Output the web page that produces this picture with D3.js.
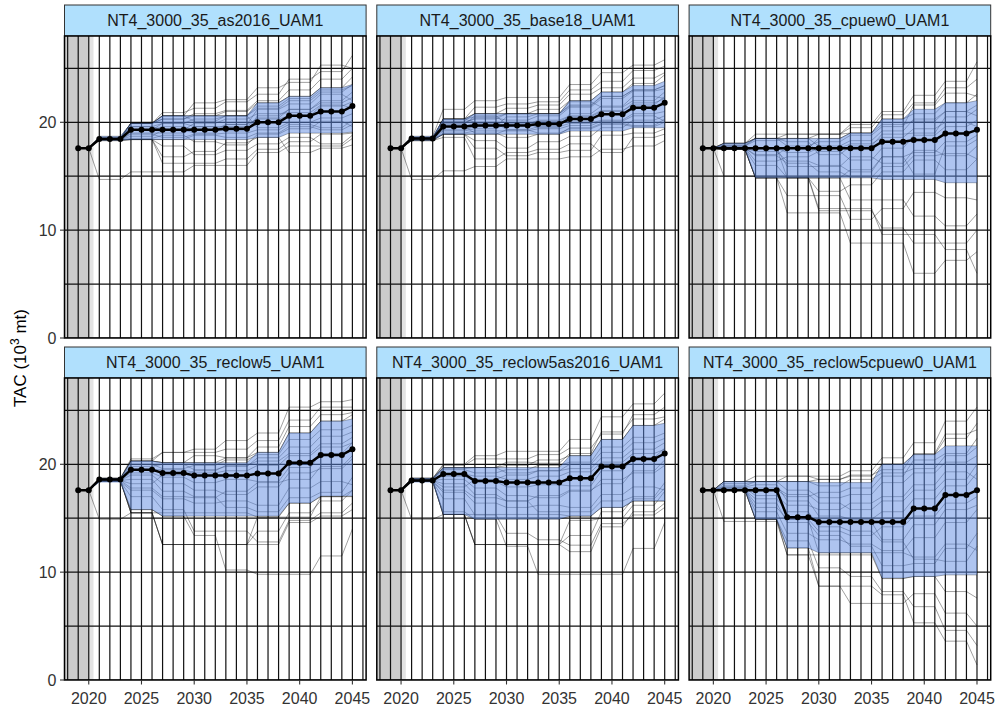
<!DOCTYPE html>
<html>
<head>
<meta charset="utf-8">
<script src="https://cdn.jsdelivr.net/npm/d3@7"></script>
<style>
  body { margin: 0; background: #fff; }
  svg { display: block; font-family: "Liberation Sans", Arial, sans-serif; }
</style>
</head>
<body>
<svg id="chart" width="997" height="710"></svg>
<script>
// Management procedure scenarios, one facet each (row-major order)
const scenarioNames = [
  "NT4_3000_35_as2016_UAM1",
  "NT4_3000_35_base18_UAM1",
  "NT4_3000_35_cpuew0_UAM1",
  "NT4_3000_35_reclow5_UAM1",
  "NT4_3000_35_reclow5as2016_UAM1",
  "NT4_3000_35_reclow5cpuew0_UAM1"
];

// Projection years
const years = [2019, 2020, 2021, 2022, 2023, 2024, 2025, 2026, 2027, 2028, 2029, 2030, 2031,
  2032, 2033, 2034, 2035, 2036, 2037, 2038, 2039, 2040, 2041, 2042, 2043, 2044, 2045];

// TAC is set at the start of each three-year cycle and held until the next one
const cycleYears = [2021, 2024, 2027, 2030, 2033, 2036, 2039, 2042, 2045];
const initialTAC = 17.6;

// Median TAC per year (10^3 mt)
const medianTAC = [
  [17.6,17.6,18.45,18.45,18.45,19.3,19.3,19.3,19.3,19.3,19.3,19.3,19.3,19.3,19.4,19.4,19.4,20.0,20.0,20.0,20.6,20.6,20.6,21.0,21.0,21.0,21.5],
  [17.6,17.6,18.5,18.5,18.5,19.6,19.6,19.6,19.7,19.7,19.7,19.7,19.7,19.7,19.85,19.85,19.85,20.3,20.3,20.3,20.75,20.75,20.75,21.35,21.35,21.35,21.8],
  [17.6,17.6,17.6,17.6,17.6,17.6,17.6,17.6,17.6,17.6,17.6,17.6,17.6,17.6,17.6,17.6,17.6,18.2,18.2,18.2,18.35,18.35,18.35,18.95,18.95,18.95,19.3],
  [17.6,17.6,18.6,18.6,18.6,19.5,19.5,19.5,19.2,19.2,19.2,18.95,18.95,18.95,18.95,18.95,18.95,19.15,19.15,19.15,20.15,20.15,20.15,20.85,20.85,20.85,21.4],
  [17.6,17.6,18.5,18.5,18.5,19.1,19.1,19.1,18.45,18.45,18.45,18.3,18.3,18.3,18.3,18.3,18.3,18.7,18.7,18.7,19.8,19.8,19.8,20.5,20.5,20.5,21.0],
  [17.6,17.6,17.6,17.6,17.6,17.6,17.6,17.6,15.1,15.1,15.1,14.65,14.65,14.65,14.65,14.65,14.65,14.65,14.65,14.65,15.9,15.9,15.9,17.15,17.15,17.15,17.6]
];

// Lower bound of the central interval per year
const lowerTAC = [
  [17.6,17.6,18.3,18.3,18.3,18.4,18.4,18.4,18.4,18.4,18.4,18.4,18.4,18.4,18.4,18.4,18.4,18.6,18.6,18.6,19.0,19.0,19.0,19.0,19.0,19.0,19.1],
  [17.6,17.6,18.3,18.3,18.3,18.9,18.9,18.9,18.9,18.9,18.9,18.9,18.9,18.9,18.9,18.9,18.9,19.2,19.2,19.2,19.2,19.2,19.2,19.5,19.5,19.5,19.5],
  [17.6,17.6,17.5,17.5,17.5,14.85,14.85,14.85,14.85,14.85,14.85,14.85,14.85,14.85,14.85,14.85,14.85,14.7,14.7,14.7,14.7,14.7,14.7,14.4,14.4,14.4,14.4],
  [17.6,17.6,18.3,18.3,18.3,15.8,15.8,15.8,15.2,15.2,15.2,15.2,15.2,15.2,15.2,15.2,15.2,15.2,15.2,15.2,16.4,16.4,16.4,17.05,17.05,17.05,17.05],
  [17.6,17.6,18.3,18.3,18.3,15.35,15.35,15.35,14.9,14.9,14.9,14.9,14.9,14.9,14.9,14.9,14.9,15.2,15.2,15.2,16.0,16.0,16.0,16.6,16.6,16.6,16.6],
  [17.6,17.6,17.6,17.6,17.6,14.9,14.9,14.9,12.25,12.25,12.25,11.8,11.8,11.8,11.8,11.8,11.8,9.45,9.45,9.45,9.6,9.6,9.6,9.75,9.75,9.75,9.75]
];

// Upper bound of the central interval per year
const upperTAC = [
  [17.6,17.6,18.7,18.7,18.7,19.9,19.9,19.9,20.6,20.6,20.6,20.6,20.6,20.6,20.6,20.6,20.6,21.8,21.8,21.8,22.4,22.4,22.4,23.2,23.2,23.2,23.5],
  [17.6,17.6,18.7,18.7,18.7,20.3,20.3,20.3,20.8,20.8,20.8,20.8,20.8,20.8,20.8,20.8,20.8,22.0,22.0,22.0,22.8,22.8,22.8,23.4,23.4,23.4,23.8],
  [17.6,17.6,18.05,18.05,18.05,18.5,18.5,18.5,18.5,18.5,18.5,18.5,18.5,18.5,19.0,19.0,19.0,20.3,20.3,20.3,21.2,21.2,21.2,21.8,21.8,21.8,22.0],
  [17.6,17.6,18.7,18.7,18.7,20.3,20.3,20.3,20.15,20.15,20.15,20.15,20.15,20.15,20.15,20.15,20.15,21.1,21.1,21.1,22.9,22.9,22.9,24.0,24.0,24.0,24.2],
  [17.6,17.6,18.7,18.7,18.7,19.7,19.7,19.7,19.7,19.7,19.7,19.7,19.7,19.7,19.7,19.7,19.7,20.8,20.8,20.8,22.3,22.3,22.3,23.6,23.6,23.6,23.8],
  [17.6,17.6,18.4,18.4,18.4,18.4,18.4,18.4,18.4,18.4,18.4,18.3,18.3,18.3,18.3,18.3,18.3,20.0,20.0,20.0,20.9,20.9,20.9,21.7,21.7,21.7,21.7]
];

// Individual simulated TAC trajectories: one value per management cycle (cycleYears)
const simTAC = [
  [
    [14.7,15.4,15.4,16.0,16.0,17.2,17.8,17.8,18.5],
    [18.4,18.4,16.2,16.2,16.6,17.5,18.2,18.9,19.0],
    [18.4,18.4,18.4,18.4,18.4,18.6,19.0,19.0,19.1],
    [18.5,19.3,19.3,19.3,19.3,20.0,20.6,21.0,21.5],
    [18.5,19.9,20.6,20.6,20.6,21.8,22.4,23.2,23.5],
    [18.6,19.9,20.3,20.8,21.1,22.0,23.0,24.0,25.0],
    [18.5,19.9,20.9,21.3,21.9,22.6,24.0,24.7,26.2],
    [18.4,19.0,19.0,19.6,19.6,20.4,21.2,21.8,22.3],
    [18.4,18.7,19.3,19.0,19.8,21.2,21.7,22.6,22.0],
    [18.7,19.9,20.6,20.1,20.6,19.5,20.0,20.4,20.8],
    [18.3,18.4,17.8,17.0,17.4,18.0,18.6,18.0,18.8],
    [18.5,19.6,19.9,19.6,19.2,20.6,21.2,22.0,22.8],
    [18.4,18.9,18.6,18.9,19.0,19.3,19.8,19.5,20.2],
    [18.5,19.9,20.6,21.8,22.1,23.2,23.7,25.3,25.0],
    [18.4,18.5,18.8,18.2,17.9,18.9,19.4,20.1,19.6],
    [18.6,19.3,19.9,20.3,20.6,21.5,22.2,23.0,23.4],
    [18.3,18.4,16.8,17.3,18.1,18.6,17.2,17.6,17.9],
    [18.5,19.6,19.3,19.9,20.3,20.8,20.9,21.6,21.3],
    [18.5,19.9,20.6,20.6,21.0,21.8,22.4,23.2,24.2],
    [18.5,19.9,20.3,20.6,20.6,21.3,22.0,22.8,23.5],
    [18.4,19.3,19.6,19.3,19.8,20.3,20.6,21.5,21.9],
    [18.4,18.4,18.4,18.8,18.6,19.0,19.6,19.3,19.8]
  ],
  [
    [14.7,15.5,15.9,16.6,16.6,16.8,17.5,17.8,18.3],
    [18.3,18.6,16.6,17.2,17.5,18.0,17.2,18.6,18.9],
    [18.4,18.9,18.9,18.9,18.9,19.2,19.2,19.5,19.5],
    [18.5,19.6,19.7,19.7,19.85,20.3,20.75,21.35,21.8],
    [18.6,20.3,20.8,20.8,20.8,22.0,22.8,23.4,23.8],
    [18.7,21.2,22.0,22.3,22.3,23.5,24.6,25.3,25.8],
    [18.5,20.3,21.4,21.7,21.9,23.0,23.8,24.8,25.2],
    [18.5,19.9,20.4,20.2,20.6,21.4,22.2,22.9,23.1],
    [18.4,19.2,19.4,19.9,19.5,20.8,21.5,22.4,22.2],
    [18.6,20.3,20.0,19.3,19.6,19.9,20.2,20.8,21.0],
    [18.3,18.9,18.3,17.6,18.2,18.7,19.5,20.2,20.6],
    [18.5,19.3,19.6,20.5,20.8,21.9,21.4,22.0,22.8],
    [18.4,19.0,19.2,19.2,19.4,19.7,20.1,20.6,20.1],
    [18.6,20.1,20.8,21.3,21.6,22.6,23.2,24.1,24.6],
    [18.4,19.6,19.0,18.6,18.9,19.5,19.9,19.7,20.3],
    [18.3,18.9,17.6,16.9,17.2,17.4,18.8,19.0,19.4],
    [18.5,20.0,20.3,20.8,20.8,21.6,22.4,23.0,23.4],
    [18.6,19.8,20.6,19.8,20.2,20.6,21.1,21.6,22.4],
    [18.5,20.3,20.8,20.8,21.2,22.0,22.8,23.6,24.4],
    [18.5,20.3,20.5,20.8,20.8,21.5,22.4,23.0,23.4],
    [18.4,19.6,19.9,19.7,20.1,20.5,21.0,21.8,22.2],
    [18.4,18.9,18.9,19.3,19.0,19.4,19.8,19.6,20.0]
  ],
  [
    [15.0,15.0,14.9,12.0,12.0,9.6,9.6,8.2,6.0],
    [17.5,14.85,11.6,11.6,8.8,8.8,6.0,7.2,8.0],
    [17.5,14.85,14.85,11.8,11.8,10.2,8.8,8.8,10.0],
    [17.6,17.6,14.85,14.85,12.8,12.8,11.3,10.4,11.5],
    [17.5,14.85,14.85,14.85,14.85,14.7,14.7,14.4,14.4],
    [17.6,17.6,17.6,17.6,17.6,18.2,18.35,18.95,19.3],
    [18.05,18.5,18.5,18.5,19.0,20.3,21.2,21.8,22.0],
    [18.05,18.9,18.9,18.9,19.8,21.0,22.5,23.8,25.6],
    [18.05,18.5,18.9,18.9,19.5,20.7,21.8,23.2,24.0],
    [17.8,18.3,18.5,17.8,18.3,19.2,20.3,21.0,20.6],
    [17.6,16.4,16.8,17.3,16.5,17.6,18.8,19.6,20.2],
    [17.7,17.6,15.9,15.9,16.8,16.2,17.4,16.9,17.8],
    [17.5,16.0,14.85,13.6,14.2,15.4,16.5,15.6,16.6],
    [17.6,17.0,17.6,18.5,19.0,19.8,20.1,21.0,21.6],
    [17.9,18.5,18.2,17.0,17.8,18.9,19.0,20.5,21.2],
    [17.6,14.85,13.2,13.2,11.0,12.0,13.5,13.0,12.8],
    [17.6,17.3,16.4,16.0,15.4,16.8,15.2,17.8,18.4],
    [17.8,18.5,17.8,18.2,18.8,19.6,21.6,22.7,22.4],
    [18.05,18.5,18.5,18.9,19.0,20.3,20.8,21.8,22.6],
    [17.6,17.6,17.2,17.6,18.0,18.6,19.4,20.0,19.6],
    [17.5,14.85,14.85,14.85,15.6,16.8,17.2,18.2,18.8],
    [17.6,16.9,16.2,15.4,14.9,15.9,16.9,17.1,16.6]
  ],
  [
    [14.9,15.5,15.5,15.5,15.5,15.1,16.4,17.0,17.0],
    [18.5,15.5,12.56,12.56,12.56,15.1,15.1,17.0,17.6],
    [18.5,15.5,12.56,12.56,12.56,12.56,14.6,15.2,15.8],
    [18.4,15.8,15.2,13.4,10.2,9.8,9.8,11.5,14.0],
    [18.4,15.8,15.2,15.2,15.2,15.2,16.4,17.05,17.05],
    [18.6,19.5,19.2,18.95,18.95,19.15,20.15,20.85,21.4],
    [18.7,20.3,20.15,20.15,20.15,21.1,22.9,24.0,24.2],
    [18.7,20.5,21.1,21.4,22.2,22.9,25.3,25.8,26.0],
    [18.7,20.3,21.1,21.1,21.4,22.2,24.1,25.3,25.3],
    [18.6,20.0,19.6,19.9,20.4,20.9,22.3,23.2,23.6],
    [18.5,19.0,18.2,17.6,17.2,17.9,19.2,19.6,20.5],
    [18.4,17.6,16.8,16.4,16.6,16.2,17.8,18.4,18.1],
    [18.5,18.6,17.5,17.0,16.0,15.6,16.9,17.4,18.8],
    [18.6,19.8,20.0,19.5,19.8,20.6,21.6,22.6,23.0],
    [18.4,17.0,15.8,13.8,13.8,12.8,14.8,15.5,16.4],
    [18.6,19.2,18.8,18.3,18.6,18.4,19.7,21.0,22.0],
    [18.5,18.2,19.0,19.4,19.9,20.3,21.0,21.9,22.5],
    [18.7,20.3,20.15,20.8,20.6,21.6,23.5,24.6,24.8],
    [18.6,20.3,20.15,20.15,20.6,21.1,22.9,24.0,24.6],
    [18.5,15.5,12.56,12.56,12.56,13.8,15.5,16.6,17.6],
    [18.6,19.5,19.5,19.2,19.4,19.9,20.8,21.6,22.0],
    [18.5,17.8,17.0,16.9,17.5,18.3,18.6,19.8,20.8]
  ],
  [
    [14.9,15.35,15.35,15.35,15.35,15.2,16.0,16.6,16.6],
    [18.5,15.35,12.56,12.56,12.56,11.9,14.2,15.6,16.4],
    [18.5,15.35,12.56,12.56,12.56,14.8,15.0,16.2,17.5],
    [18.4,15.6,14.9,12.4,9.8,9.8,9.8,12.2,14.6],
    [18.4,15.35,14.9,14.9,14.9,15.2,16.0,16.6,16.6],
    [18.5,19.1,18.45,18.3,18.3,18.7,19.8,20.5,21.0],
    [18.7,19.7,19.7,19.7,19.7,20.8,22.3,23.6,23.8],
    [18.7,20.0,20.8,21.2,21.2,22.3,24.4,25.6,26.6],
    [18.7,19.9,20.5,20.5,20.9,21.5,22.8,24.6,25.3],
    [18.6,19.5,19.2,19.5,19.9,20.2,21.6,22.5,22.9],
    [18.5,18.6,17.8,17.1,16.9,17.5,18.6,19.2,19.9],
    [18.4,17.4,16.4,16.0,16.2,16.0,17.2,17.9,17.6],
    [18.5,18.2,17.2,16.6,15.6,15.6,16.6,17.0,18.3],
    [18.6,19.6,19.7,19.2,19.4,20.0,21.1,22.0,22.4],
    [18.4,16.8,15.3,13.6,13.0,12.5,14.5,15.3,16.0],
    [18.6,18.9,18.4,17.9,18.1,18.0,19.4,20.6,21.5],
    [18.5,17.9,18.6,19.0,19.4,19.6,20.6,21.4,22.0],
    [18.7,19.7,19.7,20.2,20.1,21.0,23.0,24.2,24.4],
    [18.6,19.7,19.7,19.9,20.4,20.8,22.3,23.6,24.2],
    [18.5,15.35,12.56,12.56,12.56,13.4,15.6,16.8,17.8],
    [18.5,19.1,18.9,18.6,18.9,19.3,20.2,21.0,21.4],
    [18.4,17.6,16.9,16.6,17.1,17.6,18.2,19.4,20.4]
  ],
  [
    [14.7,14.7,11.6,11.6,11.6,9.4,9.6,8.2,7.6],
    [17.6,14.9,11.6,8.7,8.7,7.9,5.3,3.6,1.4],
    [17.6,14.9,12.25,8.7,7.1,7.1,8.0,6.2,5.0],
    [17.6,17.6,14.9,11.8,11.8,9.45,9.6,9.75,9.75],
    [17.6,14.9,12.25,11.8,11.8,11.8,11.4,12.6,12.0],
    [17.6,17.6,15.1,14.65,14.65,14.65,15.9,17.15,17.6],
    [18.4,18.4,18.4,18.3,18.3,20.0,20.9,21.7,21.7],
    [18.4,18.9,18.9,18.9,19.4,20.6,22.0,24.0,25.3],
    [18.4,18.4,18.9,18.6,19.0,19.5,21.0,22.8,23.2],
    [18.0,18.4,17.6,16.9,17.2,18.3,19.2,20.2,20.8],
    [17.8,17.1,16.2,15.8,16.4,17.0,18.1,19.3,18.6],
    [17.6,16.0,14.9,13.8,13.4,14.2,15.2,16.4,17.0],
    [17.6,15.6,13.6,13.0,12.6,12.0,13.2,14.6,15.8],
    [17.7,17.6,17.0,17.4,17.8,18.9,20.4,21.0,22.4],
    [17.6,14.9,12.9,10.4,9.6,8.2,6.8,4.6,3.2],
    [17.9,18.1,16.6,15.2,14.9,15.6,16.8,18.0,19.2],
    [17.6,16.8,15.6,14.2,13.8,12.8,11.2,11.0,12.4],
    [18.2,18.4,18.4,18.0,18.6,19.2,19.6,20.8,21.6],
    [18.4,18.4,18.4,18.6,18.9,20.0,20.9,22.4,23.8],
    [17.6,17.6,15.1,14.65,14.65,13.0,14.4,15.8,16.2],
    [17.6,16.4,14.6,13.4,12.4,10.6,10.8,12.2,13.6],
    [17.8,17.8,17.2,16.4,15.8,16.6,17.6,18.6,20.0]
  ]
];

// Axis ticks and grid positions
const yTicks = [0, 10, 20];
const yGrid = [0, 5, 10, 15, 20, 25];
const xTicks = [2020, 2025, 2030, 2035, 2040, 2045];
const xGrid = [2018, 2019, 2020, 2021, 2022, 2023, 2024, 2025, 2026, 2027, 2028, 2029, 2030,
  2031, 2032, 2033, 2034, 2035, 2036, 2037, 2038, 2039, 2040, 2041, 2042, 2043, 2044, 2045, 2046];
const historyEnd = 2020;

// ---- layout ----
const colX = [64.5, 376.8, 689.1];
const rowY = [36, 378];
const panelW = 301.6, panelH = 302, stripH = 31;

const x = d3.scaleLinear().domain([2017.7, 2046.3]).range([0, panelW]);
const y = d3.scaleLinear().domain([0, 28]).range([panelH, 0]);

const svg = d3.select("#chart");

function yearly(cycleVals) {
  return years.map(yr => yr < cycleYears[0]
    ? initialTAC
    : cycleVals[d3.bisectRight(cycleYears, yr) - 1]);
}

const line = d3.line().x((d, i) => x(years[i])).y(d => y(d));

scenarioNames.forEach((name, p) => {
  const col = p % 3, row = Math.floor(p / 3);
  const g = svg.append("g").attr("transform", `translate(${colX[col]},${rowY[row]})`);

  // facet strip
  g.append("rect").attr("x", 0).attr("y", -stripH).attr("width", panelW).attr("height", stripH)
    .attr("fill", "#b0e0fd").attr("stroke", "#333").attr("stroke-width", 1);
  g.append("text").attr("x", panelW / 2).attr("y", -stripH / 2 + 5.8)
    .attr("text-anchor", "middle").attr("font-size", 16).attr("fill", "#1a1a1a").text(name);

  const clipId = "clip" + p;
  g.append("clipPath").attr("id", clipId).append("rect")
    .attr("width", panelW).attr("height", panelH);
  const body = g.append("g").attr("clip-path", `url(#${clipId})`);

  body.append("rect").attr("width", panelW).attr("height", panelH).attr("fill", "#fff");
  // historical period shading
  body.append("rect").attr("x", 0).attr("width", x(historyEnd)).attr("height", panelH).attr("fill", "#cccccc");
  body.append("rect").attr("x", x(historyEnd)).attr("width", x(historyEnd + 0.45) - x(historyEnd))
    .attr("height", panelH).attr("fill", "#e3e3e3");

  // grid
  body.selectAll("line.v").data(xGrid).join("line")
    .attr("x1", d => x(d)).attr("x2", d => x(d)).attr("y1", 0).attr("y2", panelH)
    .attr("stroke", "#111").attr("stroke-width", 1.2);
  body.selectAll("line.h").data(yGrid).join("line").attr("class", "h")
    .attr("x1", 0).attr("x2", panelW).attr("y1", d => y(d)).attr("y2", d => y(d))
    .attr("stroke", "#111").attr("stroke-width", 1.2);

  // simulated trajectories
  body.append("g").selectAll("path").data(simTAC[p].map(yearly)).join("path")
    .attr("d", line).attr("fill", "none").attr("stroke", "#000")
    .attr("stroke-opacity", 0.42).attr("stroke-width", 0.9);

  // central interval
  const area = d3.area().x((d, i) => x(years[i]))
    .y0((d, i) => y(lowerTAC[p][i])).y1((d, i) => y(upperTAC[p][i]));
  body.append("path").attr("d", area(years)).attr("fill", "rgb(93,137,225)").attr("fill-opacity", 0.5);

  // median
  body.append("path").attr("d", line(medianTAC[p])).attr("fill", "none")
    .attr("stroke", "#000").attr("stroke-width", 2.5);
  body.append("g").selectAll("circle").data(medianTAC[p]).join("circle")
    .attr("cx", (d, i) => x(years[i])).attr("cy", d => y(d)).attr("r", 3).attr("fill", "#000");

  // panel border
  g.append("rect").attr("width", panelW).attr("height", panelH)
    .attr("fill", "none").attr("stroke", "#000").attr("stroke-width", 1.5);

  // y axis on the first column
  if (col === 0) {
    yTicks.forEach(t => {
      g.append("line").attr("x1", -4.5).attr("x2", 0).attr("y1", y(t)).attr("y2", y(t))
        .attr("stroke", "#333").attr("stroke-width", 1.1);
      g.append("text").attr("x", -8).attr("y", y(t) + 5.6).attr("text-anchor", "end")
        .attr("font-size", 16).attr("fill", "#333").text(t);
    });
  }
  // x axis on the bottom row
  if (row === 1) {
    xTicks.forEach(t => {
      g.append("line").attr("x1", x(t)).attr("x2", x(t)).attr("y1", panelH).attr("y2", panelH + 4.5)
        .attr("stroke", "#333").attr("stroke-width", 1.1);
      g.append("text").attr("x", x(t)).attr("y", panelH + 23.5).attr("text-anchor", "middle")
        .attr("font-size", 16).attr("fill", "#333").text(t);
    });
  }
});

// y-axis title
const yTitle = svg.append("text").attr("transform", "translate(26,358) rotate(-90)")
  .attr("text-anchor", "middle").attr("font-size", 17).attr("fill", "#000");
yTitle.append("tspan").text("TAC (10");
yTitle.append("tspan").attr("font-size", 12).attr("dy", -7).text("3");
yTitle.append("tspan").attr("dy", 7).text(" mt)");
</script>
</body>
</html>
